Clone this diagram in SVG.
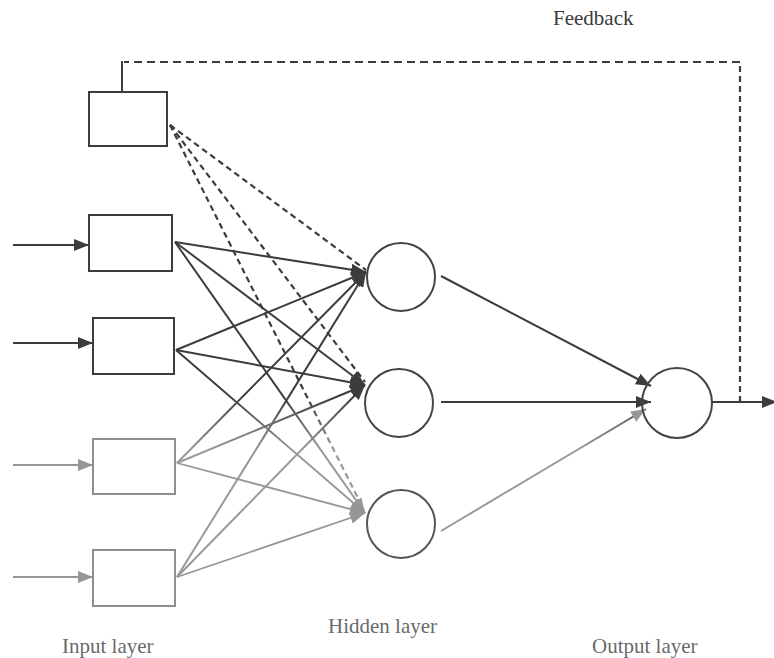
<svg xmlns="http://www.w3.org/2000/svg" width="774" height="658" viewBox="0 0 774 658">
  <style>
    .box { fill: #fff; stroke: #3c3c3c; stroke-width: 2; }
    .box-lt { fill: #fff; stroke: #8e8e8e; stroke-width: 2; }
    .node { fill: none; stroke: #444; stroke-width: 2; }
    .dk { fill: none; stroke: #3c3c3c; stroke-width: 2; }
    .lt { fill: none; stroke: #969696; stroke-width: 1.8; }
    .fade { fill: none; stroke: url(#fade); stroke-width: 2; }
    .dash { fill: none; stroke: url(#fade); stroke-width: 2.2; stroke-dasharray: 6 4; }
    .fb { fill: none; stroke: #3c3c3c; stroke-width: 2.2; stroke-dasharray: 8 5; }
    .fbv { fill: none; stroke: #3c3c3c; stroke-width: 2.2; stroke-dasharray: 6 4; }
    .label { font-family: "Liberation Serif", "Times New Roman", serif; font-size: 21px; fill: #6a6a6a; }
    .title { font-family: "Liberation Serif", "Times New Roman", serif; font-size: 21px; fill: #3a3a3a; }
  </style>
  <defs>
    <!-- ink lightens towards the lower part of the network -->
    <linearGradient id="fade" gradientUnits="userSpaceOnUse" x1="0" y1="395" x2="0" y2="450">
      <stop offset="0" stop-color="#3c3c3c"/>
      <stop offset="1" stop-color="#999"/>
    </linearGradient>
    <marker id="ah-dk" viewBox="0 0 15 12" refX="15" refY="6" markerWidth="15" markerHeight="12" markerUnits="userSpaceOnUse" orient="auto">
      <path d="M0,0 L15,6 L0,12 z" fill="#3c3c3c"/>
    </marker>
    <marker id="ah-lt" viewBox="0 0 15 12" refX="15" refY="6" markerWidth="15" markerHeight="12" markerUnits="userSpaceOnUse" orient="auto">
      <path d="M0,0 L15,6 L0,12 z" fill="#969696"/>
    </marker>
  </defs>

  <!-- connectors -->
  <g id="connectors">
    <!-- external inputs -->
    <line class="dk" x1="13" y1="245" x2="89" y2="245" marker-end="url(#ah-dk)"/>
    <line class="dk" x1="13" y1="343" x2="93" y2="343" marker-end="url(#ah-dk)"/>
    <line class="lt" x1="13" y1="465" x2="93" y2="465" marker-end="url(#ah-lt)"/>
    <line class="lt" x1="13" y1="577" x2="93" y2="577" marker-end="url(#ah-lt)"/>

    <!-- input layer to hidden layer -->
    <line class="fade" x1="177" y1="463" x2="366" y2="272" marker-end="url(#ah-dk)"/>
    <line class="fade" x1="177" y1="577" x2="366" y2="272" marker-end="url(#ah-dk)"/>
    <line class="fade" x1="177" y1="463" x2="365" y2="385" marker-end="url(#ah-dk)"/>
    <line class="fade" x1="177" y1="577" x2="365" y2="385" marker-end="url(#ah-dk)"/>
    <line class="lt" x1="177" y1="463" x2="365" y2="513" marker-end="url(#ah-lt)"/>
    <line class="lt" x1="177" y1="577" x2="365" y2="513" marker-end="url(#ah-lt)"/>
    <line class="fade" x1="175" y1="242" x2="365" y2="513" marker-end="url(#ah-lt)"/>
    <line class="fade" x1="176" y1="350" x2="365" y2="513" marker-end="url(#ah-lt)"/>
    <line class="dk" x1="175" y1="242" x2="366" y2="272" marker-end="url(#ah-dk)"/>
    <line class="dk" x1="176" y1="350" x2="366" y2="272" marker-end="url(#ah-dk)"/>
    <line class="dk" x1="175" y1="242" x2="365" y2="385" marker-end="url(#ah-dk)"/>
    <line class="dk" x1="176" y1="350" x2="365" y2="385" marker-end="url(#ah-dk)"/>

    <!-- context unit to hidden layer -->
    <line class="dash" x1="170" y1="125" x2="366" y2="270"/>
    <line class="dash" x1="170" y1="125" x2="365" y2="382"/>
    <line class="dash" x1="170" y1="125" x2="364" y2="510"/>

    <!-- hidden layer to output -->
    <line class="dk" x1="441" y1="276" x2="651" y2="386" marker-end="url(#ah-dk)"/>
    <line class="dk" x1="441" y1="402" x2="651" y2="402" marker-end="url(#ah-dk)"/>
    <line class="fade" x1="441" y1="531" x2="646" y2="409" marker-end="url(#ah-lt)"/>

    <!-- network output -->
    <line class="dk" x1="712" y1="402" x2="777" y2="402" marker-end="url(#ah-dk)"/>

    <!-- feedback loop -->
    <line class="fbv" x1="740" y1="402" x2="740" y2="62"/>
    <line class="fb" x1="740" y1="62" x2="124" y2="62"/>
    <line class="dk" x1="122" y1="61" x2="122" y2="92"/>
  </g>

  <!-- context unit -->
  <g id="context">
    <rect class="box" x="89" y="92" width="78" height="54"/>
  </g>

  <!-- input layer -->
  <g id="in1"><rect class="box" x="89" y="215" width="83" height="56"/></g>
  <g id="in2"><rect class="box" x="93" y="318" width="81" height="56"/></g>
  <g id="in3"><rect class="box-lt" x="93" y="439" width="82" height="55"/></g>
  <g id="in4"><rect class="box-lt" x="93" y="550" width="82" height="56"/></g>

  <!-- hidden layer -->
  <g id="h1"><circle class="node" cx="401" cy="277" r="34"/></g>
  <g id="h2"><circle class="node" cx="399" cy="403" r="34"/></g>
  <g id="h3"><circle class="node" cx="401" cy="524" r="34" style="stroke:#555"/></g>

  <!-- output layer -->
  <g id="out"><circle class="node" cx="677" cy="403" r="35"/></g>

  <!-- labels -->
  <g id="labels">
    <text class="title" x="553" y="25">Feedback</text>
    <text class="label" x="62" y="653">Input layer</text>
    <text class="label" x="328" y="633">Hidden layer</text>
    <text class="label" x="592" y="653">Output layer</text>
  </g>
</svg>
